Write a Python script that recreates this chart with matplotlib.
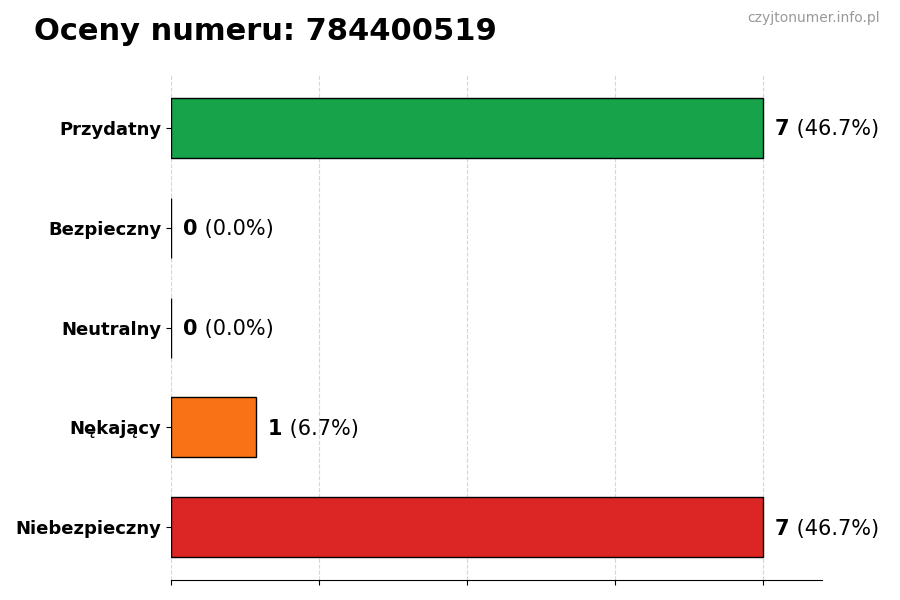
import matplotlib
matplotlib.use("Agg")
import matplotlib.pyplot as plt

kategorie = ['Przydatny', 'Bezpieczny', 'Neutralny', 'Nękający', 'Niebezpieczny']
liczby = [7, 0, 0, 1, 7]
kolory = ['#16a34a', '#2563eb', '#6b7280', '#f97316', '#dc2626']
numer = '784400519'

razem = sum(liczby)
procenty = [100.0 * v / razem for v in liczby]

fig = plt.figure(figsize=(9, 6), dpi=100)
ax = fig.add_axes([0.19, 0.033, 0.723, 0.842])

pozycje = list(range(len(kategorie)))
ax.barh(pozycje, liczby, height=0.6, color=kolory, edgecolor='black', linewidth=1)
ax.invert_yaxis()
ax.set_yticks(pozycje)
ax.set_yticklabels(kategorie, fontsize=13, fontweight='bold')

mx = max(liczby)
ax.set_xlim(0, mx * 1.1)
ax.set_xticks([mx * f for f in [0, 0.25, 0.5, 0.75, 1.0]])
ax.set_xticklabels([])
ax.grid(axis='x', linestyle='--', color='#cccccc', alpha=0.8)
ax.set_axisbelow(True)

for s in ['top', 'right', 'left']:
    ax.spines[s].set_visible(False)

# etykiety: pogrubiona liczba + procent
for i, (v, p) in enumerate(zip(liczby, procenty)):
    t = ax.annotate(str(v), xy=(v, i), xytext=(9, -1), textcoords='offset points',
                    va='center', ha='left', fontsize=15, fontweight='bold')
    ax.annotate(' (%.1f%%)' % p, xy=(1, 0.5), xycoords=t, va='center', ha='left',
                fontsize=15)

fig.text(0.038, 0.947, 'Oceny numeru: ' + numer, fontsize=22, fontweight='bold',
         ha='left', va='center')
fig.text(0.978, 0.97, 'czyjtonumer.info.pl', fontsize=10, color='#999999',
         ha='right', va='center')

fig.savefig('out.png', dpi=100)
